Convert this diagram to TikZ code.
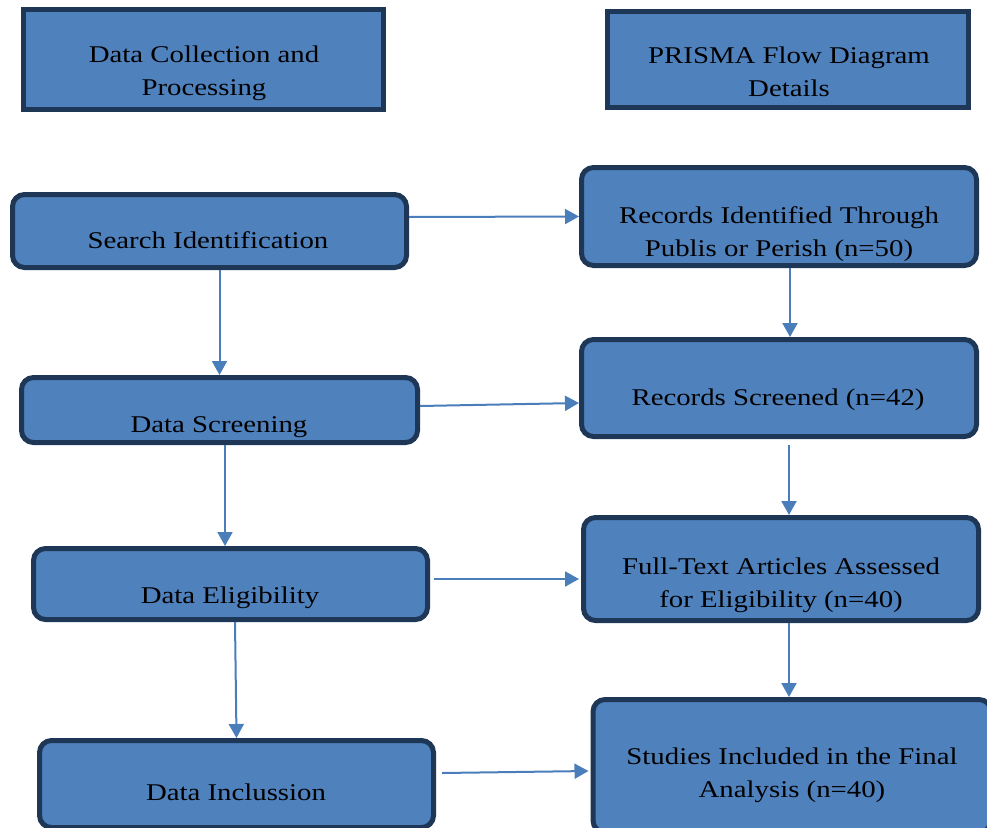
\documentclass[tikz,border=0pt]{standalone}
\usepackage{fontspec}
\setmainfont{Liberation Serif}[FakeStretch=1.2]
\usetikzlibrary{arrows.meta}
\definecolor{boxfill}{HTML}{4F81BD}
\definecolor{boxline}{HTML}{1F3756}
\definecolor{arrowc}{HTML}{4A7EBB}
\tikzset{
  hbox/.style={draw=boxline, fill=boxfill, line width=5pt, rectangle, inner sep=0pt},
  rbox/.style={hbox, rounded corners=12pt},
  txt/.style={anchor=base, align=center, font=\fontsize{24}{33}\selectfont, text=black, inner sep=0pt},
  arr/.style={draw=arrowc, line width=2pt, -{Triangle[width=15pt,length=14pt]}}
}
\begin{document}
\begin{tikzpicture}[x=1pt,y=-1pt]
\useasboundingbox (0,0) rectangle (987,827);
\clip (0,0) rectangle (987,827);
% header boxes
\node[hbox, minimum width=360pt, minimum height=100pt] (h1) at (203.5,59.5) {};
\node[hbox, minimum width=361pt, minimum height=96pt] (h2) at (788,59.5) {};
% left column
\node[rbox, minimum width=394pt, minimum height=73pt] (b1) at (209.5,231) {};
\node[rbox, minimum width=396pt, minimum height=65pt] (b2) at (219.5,410) {};
\node[rbox, minimum width=394pt, minimum height=71pt] (b3) at (230.5,584) {};
\node[rbox, minimum width=394pt, minimum height=87pt] (b4) at (236.5,784) {};
% right column
\node[rbox, minimum width=395pt, minimum height=98pt] (r1) at (779,216.5) {};
\node[rbox, minimum width=395pt, minimum height=97pt] (r2) at (779,388) {};
\node[rbox, minimum width=395pt, minimum height=103pt] (r3) at (781,569) {};
\node[rbox, minimum width=398pt, minimum height=133pt] (r4) at (792,766) {};
% texts (multi-line nodes: base is the last line)
\node[txt] (th1) at (204,95) {Data Collection and\\Processing};
\node[txt] (th2) at (789,96) {PRISMA Flow Diagram\\Details};
\node[txt] (tb1) at (208,248) {Search Identification};
\node[txt] (tb2) at (219,432) {Data Screening};
\node[txt] (tb3) at (230,603) {Data Eligibility};
\node[txt] (tb4) at (236,800) {Data Inclussion};
\node[txt] (tr1) at (779,256) {Records Identified Through\\Publis or Perish (n=50)};
\node[txt] (tr2) at (778,405) {Records Screened (n=42)};
\node[txt] (tr3) at (781,607) {Full-Text Articles Assessed\\for Eligibility (n=40)};
\node[txt] (tr4) at (792,797) {Studies Included in the Final\\Analysis (n=40)};
% arrows
\draw[arr] ([yshift=14pt]b1.east) -- (r1.west);
\draw[arr] ([xshift=10pt]b1.south) -- (b2.north);
\draw[arr] ([yshift=4pt]b2.east) -- ([yshift=-15pt]r2.west);
\draw[arr] ([xshift=5.5pt]b2.south) -- ([xshift=-5.5pt]b3.north);
\draw[arr] ([xshift=4pt,yshift=5pt]b3.east) -- ([xshift=-2pt,yshift=-10pt]r3.west);
\draw[arr] ([xshift=4.5pt]b3.south) -- (b4.north);
\draw[arr] ([xshift=6pt,yshift=11pt]b4.east) -- ([xshift=-2pt,yshift=-5pt]r4.west);
\draw[arr] ([xshift=11pt]r1.south) -- ([xshift=11pt]r2.north);
\draw[arr] ([xshift=10pt,yshift=-6pt]r2.south) -- ([xshift=8pt]r3.north);
\draw[arr] ([xshift=8pt]r3.south) -- ([xshift=-3pt]r4.north);
\end{tikzpicture}
\end{document}
